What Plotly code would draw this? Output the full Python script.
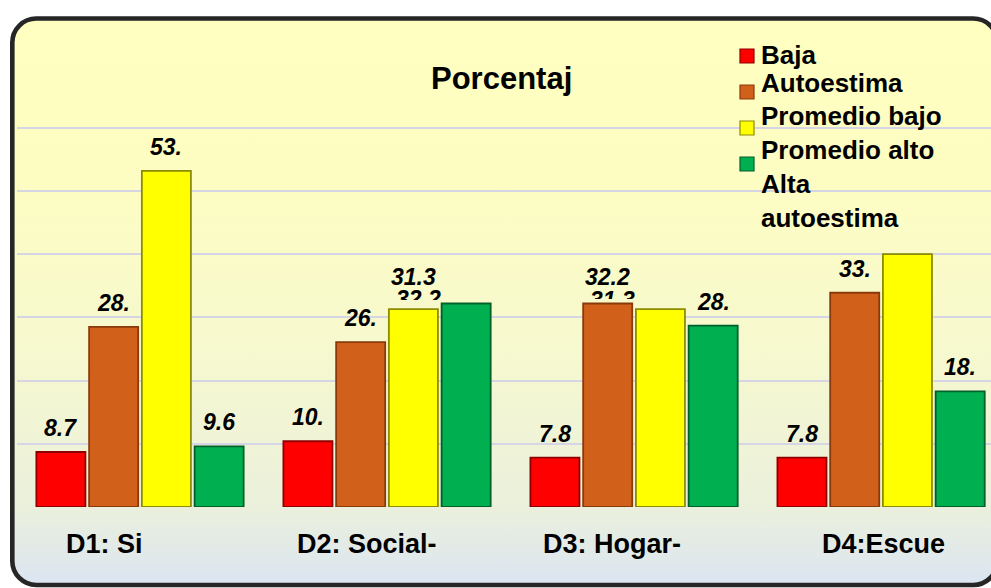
import base64
import plotly.graph_objects as go

# ---------------- data ----------------
categories = ["D1: Si", "D2: Social-", "D3: Hogar-", "D4:Escue"]
series_names = ["Baja Autoestima", "Promedio bajo", "Promedio alto", "Alta autoestima"]
baja_autoestima = [8.7, 10.4, 7.8, 7.8]
promedio_bajo = [28.5, 26.1, 32.2, 33.9]
promedio_alto = [53.2, 31.3, 31.3, 40.0]
alta_autoestima = [9.6, 32.2, 28.7, 18.3]
labels_baja = ["8.7", "10.", "7.8", "7.8"]
labels_prom_bajo = ["28.", "26.", "32.2", "33."]
labels_prom_alto = ["53.", "31.3", "31.3", ""]
labels_alta = ["9.6", "32.2", "28.", "18."]
legend_lines = ["Baja", "Autoestima", "Promedio bajo", "Promedio alto", "Alta", "autoestima"]
title_text = "Porcentaj"

# ---------------- style ----------------
W, H = 991, 588
FONT = "Arial, 'Liberation Sans', sans-serif"
fills = ["#FF0000", "#D0601A", "#FFFF00", "#00B050"]
edges = ["#8E0000", "#8A3A0A", "#8C8C00", "#00602A"]
BARGAP, GROUPGAP = 0.146, 0.07

def py(px):
    return 1 - px / H

def pxx(px):
    return px / W

values = [baja_autoestima, promedio_bajo, promedio_alto, alta_autoestima]
labels = [labels_baja, labels_prom_bajo, labels_prom_alto, labels_alta]

fig = go.Figure()
for s in range(4):
    fig.add_trace(go.Bar(
        x=categories, y=values[s], name=series_names[s],
        marker=dict(color=fills[s], line=dict(color=edges[s], width=1.8)),
        showlegend=False, hoverinfo="x+y+name",
    ))

# background frame as an svg image
svg = f'''<svg xmlns="http://www.w3.org/2000/svg" width="{W}" height="{H}" viewBox="0 0 {W} {H}" preserveAspectRatio="none">
<defs><linearGradient id="g" x1="0" y1="0" x2="0" y2="1">
<stop offset="0" stop-color="#FFFFC0"/><stop offset="0.3" stop-color="#FDFDC3"/>
<stop offset="0.6" stop-color="#F6F8CF"/><stop offset="0.86" stop-color="#EBF0DC"/>
<stop offset="1" stop-color="#DBE5F2"/></linearGradient></defs>
<rect x="12.3" y="18.5" width="985" height="566.5" rx="24" ry="24" fill="url(#g)" stroke="#262626" stroke-width="4.6"/>
</svg>'''
src = "data:image/svg+xml;base64," + base64.b64encode(svg.encode()).decode()

annotations = []
# data labels
special = {
    (2, 1): dict(yshift=32),
    (1, 2): dict(yshift=27),
    (3, 1): dict(xshift=-48, yanchor="top", yshift=19.9, height=14, valign="top"),
    (2, 2): dict(xshift=-48, yanchor="top", yshift=24.6, height=12, valign="top"),
}
slot = (1 - BARGAP) / 4
for s in range(4):
    for c in range(4):
        t = labels[s][c]
        if not t:
            continue
        a = dict(x=c + (s - 1.5) * slot, y=values[s][c], xref="x", yref="y",
                 text=f"<b><i>{t}</i></b>", showarrow=False,
                 font=dict(family=FONT, size=23, color="black"),
                 xanchor="center", yanchor="middle", yshift=24)
        a.update(special.get((s, c), {}))
        annotations.append(a)

# category labels
cat_xshift = [-36, -20, -22, 2]
for c, name in enumerate(categories):
    annotations.append(dict(x=name, y=py(544), xref="x", yref="paper",
                            text=f"<b>{name}</b>", showarrow=False, xshift=cat_xshift[c],
                            font=dict(family=FONT, size=27, color="black"),
                            xanchor="center", yanchor="middle"))

# title
annotations.append(dict(x=pxx(501.5), y=py(78.5), xref="paper", yref="paper",
                        text=f"<b>{title_text}</b>", showarrow=False,
                        font=dict(family=FONT, size=31, color="black"),
                        xanchor="center", yanchor="middle"))

# legend text
legend_y = [54.7, 82.7, 115.7, 149.7, 183.7, 217.7]
for t, yy in zip(legend_lines, legend_y):
    annotations.append(dict(x=pxx(759), y=py(yy), xref="paper", yref="paper",
                            text=f"<b>{t}</b>", showarrow=False,
                            font=dict(family=FONT, size=26, color="black"),
                            xanchor="left", yanchor="middle"))

# legend swatches
shapes = []
sw_top = [49, 85, 121, 157]
for s in range(4):
    shapes.append(dict(type="rect", xref="paper", yref="paper",
                       x0=pxx(740), x1=pxx(754), y0=py(sw_top[s] + 14), y1=py(sw_top[s]),
                       fillcolor=fills[s], line=dict(color=edges[s], width=1.2)))

fig.update_layout(
    width=W, height=H, autosize=False,
    margin=dict(l=0, r=0, t=0, b=0),
    paper_bgcolor="white", plot_bgcolor="rgba(0,0,0,0)",
    barmode="group", bargap=BARGAP, bargroupgap=GROUPGAP,
    images=[dict(source=src, xref="paper", yref="paper", x=0, y=1, sizex=1, sizey=1,
                 sizing="stretch", layer="below", xanchor="left", yanchor="top")],
    xaxis=dict(type="category", domain=[16.5 / W, 1], range=[-0.5, 3.445],
               showticklabels=False, showgrid=False, zeroline=False, showline=False,
               ticks=""),
    yaxis=dict(domain=[py(507), py(64.6)], range=[0, 70],
               tickvals=[0, 10, 20, 30, 40, 50, 60], showticklabels=False,
               showgrid=True, gridcolor="#D5D5E6", gridwidth=2,
               zeroline=False, showline=False, ticks=""),
    annotations=annotations, shapes=shapes,
    showlegend=False,
)

fig.write_html("out.html", config={"displayModeBar": False},
               post_script="document.body.style.margin='0';document.body.style.overflow='hidden';")
